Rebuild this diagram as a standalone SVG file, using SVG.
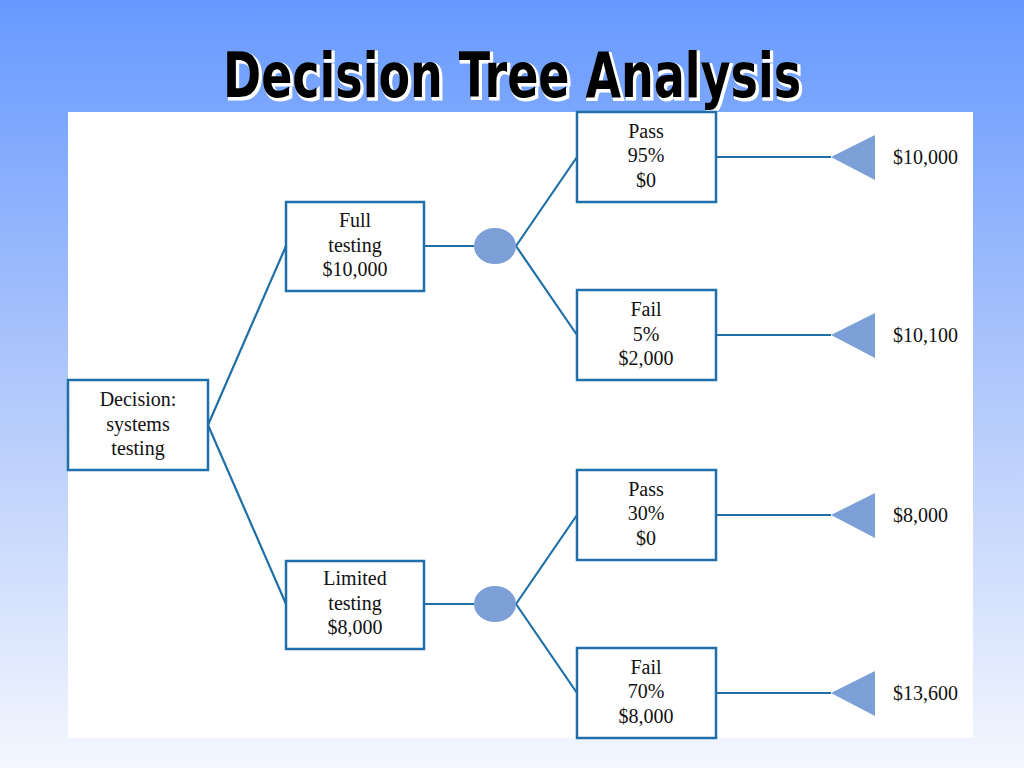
<svg xmlns="http://www.w3.org/2000/svg" width="1024" height="768" viewBox="0 0 1024 768">
<defs>
<linearGradient id="bg" x1="0" y1="0" x2="0" y2="1">
<stop offset="0" stop-color="#6699ff"/>
<stop offset="0.45" stop-color="#a9c3fb"/>
<stop offset="1" stop-color="#f4f7fe"/>
</linearGradient>
<style>
.box{fill:#fff;stroke:#1f6fa8;stroke-width:2.5}
.ln{stroke:#1f6fa8;stroke-width:2.2;fill:none}
.t{font-family:"Liberation Serif","Times New Roman",serif;font-size:20px;fill:#111;text-anchor:middle}
.v{font-family:"Liberation Serif","Times New Roman",serif;font-size:20px;fill:#111}
.ch{fill:#7b9fd6}
.title{font-family:"Liberation Sans Narrow","DejaVu Sans Condensed","Liberation Sans",sans-serif;font-weight:bold;font-size:62px;text-anchor:middle}
</style>
</defs>
<rect width="1024" height="768" fill="url(#bg)"/>
<text class="title" x="514" y="99" fill="#fff" stroke="#fff" stroke-width="3" textLength="578" lengthAdjust="spacingAndGlyphs">Decision Tree Analysis</text>
<text class="title" x="512" y="97" fill="#000" textLength="578" lengthAdjust="spacingAndGlyphs">Decision Tree Analysis</text>
<rect x="68" y="112" width="905" height="626" fill="#fff"/>
<g id="connectors">
<path class="ln" d="M208 425 L286 246 M208 425 L286 604 M424 246 H474 M424 604 H474 M516 246 L577 157 M516 246 L577 335 M516 604 L577 515 M516 604 L577 693 M716 157 H831 M716 335 H831 M716 515 H831 M716 693 H831"/>
</g>
<g id="decision"><rect class="box" x="68" y="380" width="140" height="90"/>
<text class="t" x="138" y="406">Decision:</text><text class="t" x="138" y="431">systems</text><text class="t" x="138" y="455">testing</text></g>
<g id="full"><rect class="box" x="286" y="202" width="138" height="89"/>
<text class="t" x="355" y="227">Full</text><text class="t" x="355" y="252">testing</text><text class="t" x="355" y="276">$10,000</text></g>
<g id="limited"><rect class="box" x="286" y="561" width="138" height="88"/>
<text class="t" x="355" y="585">Limited</text><text class="t" x="355" y="610">testing</text><text class="t" x="355" y="634">$8,000</text></g>
<g id="chance1"><ellipse class="ch" cx="495" cy="246" rx="21" ry="18"/></g>
<g id="chance2"><ellipse class="ch" cx="495" cy="604" rx="21" ry="18"/></g>
<g id="pass95"><rect class="box" x="577" y="112" width="139" height="90"/>
<text class="t" x="646" y="138">Pass</text><text class="t" x="646" y="162">95%</text><text class="t" x="646" y="187">$0</text></g>
<g id="fail5"><rect class="box" x="577" y="290" width="139" height="90"/>
<text class="t" x="646" y="316">Fail</text><text class="t" x="646" y="341">5%</text><text class="t" x="646" y="365">$2,000</text></g>
<g id="pass30"><rect class="box" x="577" y="470" width="139" height="90"/>
<text class="t" x="646" y="496">Pass</text><text class="t" x="646" y="520">30%</text><text class="t" x="646" y="545">$0</text></g>
<g id="fail70"><rect class="box" x="577" y="648" width="139" height="90"/>
<text class="t" x="646" y="674">Fail</text><text class="t" x="646" y="698">70%</text><text class="t" x="646" y="723">$8,000</text></g>
<g id="end1"><polygon class="ch" points="831,157 875,135 875,180"/><text class="v" x="893" y="164">$10,000</text></g>
<g id="end2"><polygon class="ch" points="831,335 875,313 875,358"/><text class="v" x="893" y="342">$10,100</text></g>
<g id="end3"><polygon class="ch" points="831,515 875,493 875,538"/><text class="v" x="893" y="522">$8,000</text></g>
<g id="end4"><polygon class="ch" points="831,693 875,671 875,716"/><text class="v" x="893" y="700">$13,600</text></g>
</svg>
